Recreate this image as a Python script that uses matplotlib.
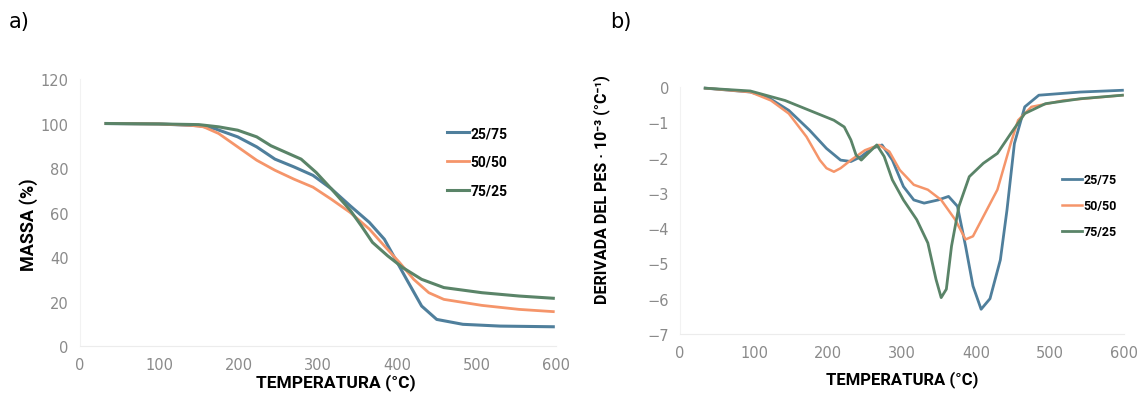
import matplotlib
matplotlib.use('Agg')
import matplotlib.pyplot as plt

# TGA: mass (%) vs temperature (°C)
tg_temp_2575 = [33, 100, 150, 170, 199, 223, 246, 270, 294, 317, 341, 365, 384, 398, 412, 431, 450, 483, 530, 597]
tg_mass_2575 = [100, 99.8, 99, 97.7, 94, 89.5, 84, 80.5, 76.7, 70.7, 63, 55.6, 48, 39, 30, 18, 12, 9.8, 9, 8.7]
tg_temp_5050 = [33, 100, 140, 156, 175, 199, 223, 246, 270, 294, 317, 341, 365, 384, 403, 421, 440, 459, 507, 554, 597]
tg_mass_5050 = [100, 99.8, 99.2, 98.5, 95.5, 89.5, 83.5, 79, 75, 71.4, 66, 60, 52.6, 45, 37.6, 30, 24, 21, 18.3, 16.5, 15.5]
tg_temp_7525 = [33, 100, 150, 175, 199, 223, 241, 260, 279, 298, 317, 341, 355, 369, 388, 407, 431, 459, 507, 554, 597]
tg_mass_7525 = [100, 99.8, 99.5, 98.5, 97, 94, 90, 87, 84, 78, 70.7, 61, 54, 46.6, 40.6, 35.3, 30, 26.3, 24, 22.5, 21.5]

# DTG: derivative of weight (10^-3 °C^-1) vs temperature (°C)
dtg_temp_2575 = [34, 95, 118, 147, 175, 198, 217, 231, 245, 259, 273, 287, 302, 316, 330, 349, 363, 375, 386, 396, 407, 419, 433, 442, 452, 466, 485, 541, 598]
dtg_der_2575 = [-0.03, -0.14, -0.28, -0.66, -1.22, -1.74, -2.07, -2.11, -1.97, -1.74, -1.64, -2.07, -2.82, -3.2, -3.29, -3.2, -3.1, -3.38, -4.51, -5.64, -6.3, -6.0, -4.9, -3.48, -1.6, -0.56, -0.23, -0.14, -0.09]
dtg_temp_5050 = [34, 95, 123, 147, 171, 189, 198, 208, 217, 231, 250, 269, 283, 297, 316, 335, 353, 372, 386, 396, 410, 429, 447, 457, 475, 518, 598]
dtg_der_5050 = [-0.03, -0.14, -0.38, -0.75, -1.41, -2.07, -2.3, -2.4, -2.3, -2.07, -1.79, -1.64, -1.83, -2.35, -2.77, -2.91, -3.2, -3.76, -4.32, -4.23, -3.67, -2.91, -1.6, -0.94, -0.56, -0.38, -0.23]
dtg_temp_7525 = [34, 95, 142, 175, 208, 222, 231, 238, 245, 254, 266, 276, 287, 302, 320, 335, 346, 353, 360, 367, 377, 391, 410, 429, 447, 466, 494, 541, 598]
dtg_der_7525 = [-0.03, -0.11, -0.38, -0.66, -0.94, -1.13, -1.5, -1.93, -2.07, -1.88, -1.64, -1.97, -2.63, -3.2, -3.76, -4.42, -5.45, -5.97, -5.73, -4.51, -3.38, -2.54, -2.16, -1.88, -1.32, -0.75, -0.47, -0.33, -0.23]

labels = ['25/75', '50/50', '75/25']
colors = ['#4f7f9c', '#f5956a', '#5a8468']

lab_font = ['Roboto', 'DejaVu Sans']
tick_col = '#8a8a8a'

fig = plt.figure(figsize=(11.41, 4.06), dpi=100)
ax1 = fig.add_axes([0.070, 0.145, 0.417, 0.658])
ax2 = fig.add_axes([0.596, 0.175, 0.389, 0.608])

ax1.plot(tg_temp_2575, tg_mass_2575, color=colors[0], lw=2.2, label=labels[0])
ax1.plot(tg_temp_5050, tg_mass_5050, color=colors[1], lw=2.0, label=labels[1])
ax1.plot(tg_temp_7525, tg_mass_7525, color=colors[2], lw=2.2, label=labels[2])
ax1.set_xlim(0, 600)
ax1.set_ylim(0, 120)
ax1.set_xticks(range(0, 601, 100))
ax1.set_yticks(range(0, 121, 20))
ax1.set_xlabel('TEMPERATURA (°C)', family=lab_font, fontweight='bold', fontsize=12.5)
ax1.set_ylabel('MASSA (%)', family=lab_font, fontweight='bold', fontsize=13)
ax1.xaxis.set_label_coords(0.538, -0.10)
ax1.yaxis.set_label_coords(-0.088, 0.457)

ax2.plot(dtg_temp_2575, dtg_der_2575, color=colors[0], lw=2.0, label=labels[0], clip_on=False)
ax2.plot(dtg_temp_5050, dtg_der_5050, color=colors[1], lw=1.8, label=labels[1], clip_on=False)
ax2.plot(dtg_temp_7525, dtg_der_7525, color=colors[2], lw=2.0, label=labels[2], clip_on=False)
ax2.set_xlim(0, 600)
ax2.set_ylim(-7, 0)
ax2.set_xticks(range(0, 601, 100))
ax2.set_yticks(range(-7, 1))
ax2.set_xlabel('TEMPERATURA (°C)', family=lab_font, fontweight='bold', fontsize=12)
ax2.set_ylabel('DERIVADA DEL PES · 10⁻³ (°C⁻¹)', family=lab_font, fontweight='bold', fontsize=11.5)
ax2.xaxis.set_label_coords(0.5, -0.145)
ax2.yaxis.set_label_coords(-0.158, 0.587)

legend_pos = [(ax1, (0.745, 0.69), 10), (ax2, (0.835, 0.52), 9)]
for ax, anchor, fs in legend_pos:
    for side in ('top', 'right'):
        ax.spines[side].set_visible(False)
    ax.spines['left'].set_color('#f2f2f2')
    ax.spines['bottom'].set_color('#ececec')
    ax.tick_params(length=0, labelsize=10.5, labelcolor=tick_col, pad=8)
    ax.legend(frameon=False, loc='center left', bbox_to_anchor=anchor,
              handlelength=1.6, handletextpad=0.1, labelspacing=1.05,
              prop={'family': lab_font, 'weight': 'bold', 'size': fs})

fig.text(0.008, 0.93, 'a)', fontsize=15, family='DejaVu Sans')
fig.text(0.535, 0.93, 'b)', fontsize=15, family='DejaVu Sans')

fig.savefig('out.png', dpi=100)
